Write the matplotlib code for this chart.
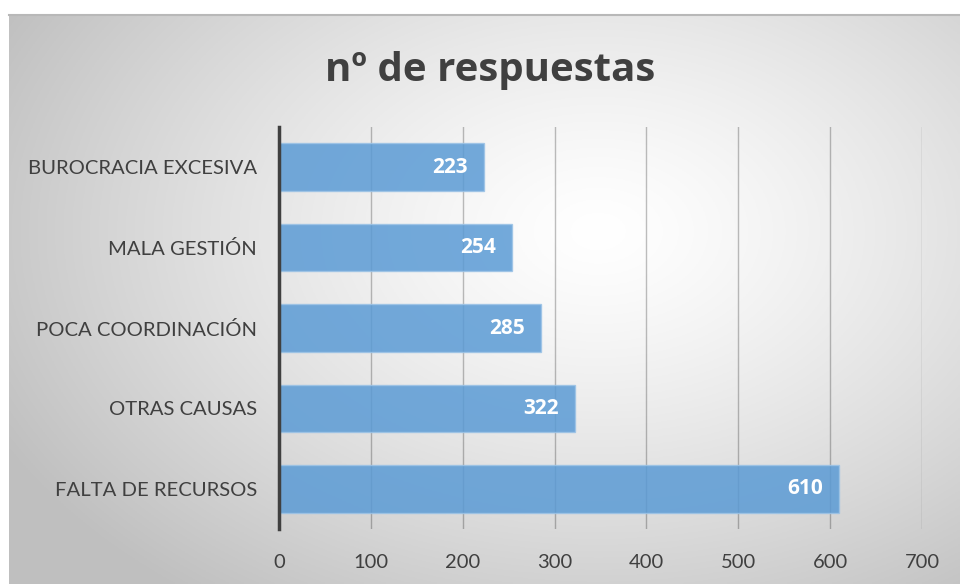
import numpy as np
import matplotlib
matplotlib.use("Agg")
import matplotlib.pyplot as plt

categories = ["FALTA DE RECURSOS", "OTRAS CAUSAS", "POCA COORDINACIÓN", "MALA GESTIÓN", "BUROCRACIA EXCESIVA"]
values = [610, 322, 285, 254, 223]
xticks = [0, 100, 200, 300, 400, 500, 600, 700]
title = "nº de respuestas"

FONT = "Lato"
BOLDFONT = "Open Sans"
W, H = 960, 584
fig = plt.figure(figsize=(W / 100, H / 100), dpi=100)

# background radial gradient (chart area)
bg = fig.add_axes([9 / W, 0, 1 - 9 / W, (H - 15) / H])
bg.set_axis_off()
nx, ny = 400, 240
xs = np.linspace(0, 1, nx)
ys = np.linspace(0, 1, ny)
X, Y = np.meshgrid(xs, ys)
cx, cy = 0.62, 0.38
R = np.sqrt(((X - cx) / 0.75) ** 2 + ((Y - cy) / 0.85) ** 2)
R = np.clip(R / 0.95, 0, 1)
val = 1.0 - 0.25 * R ** 1.3
img = np.dstack([val, val, val])
bg.imshow(img, extent=[0, 1, 0, 1], aspect="auto", origin="upper")
bg.plot([0, 1], [1, 1], color="#b8b8b8", lw=1.5, transform=bg.transAxes, clip_on=False)
bg.set_xlim(0, 1)
bg.set_ylim(0, 1)

ax = fig.add_axes([279 / W, (H - 529) / H, (922 - 279) / W, 402 / H])
ax.patch.set_alpha(0)
y = np.arange(len(categories))
bars = ax.barh(y, values, height=0.59, color="#5b9bd5", alpha=0.85,
               edgecolor="#9cc3e6", linewidth=1, zorder=3)
ax.set_xlim(0, 700)
ax.set_ylim(-0.5, len(categories) - 0.5)
ax.set_xticks(xticks)
ax.set_xticklabels([str(t) for t in xticks], fontsize=14.5, color="#404040", family=FONT)
ax.set_yticks(y)
ax.set_yticklabels(categories, fontsize=14.6, color="#404040", family=FONT)
ax.tick_params(axis="x", length=0, pad=18)
ax.tick_params(axis="y", length=0, pad=16)
for s in ["top", "right", "bottom"]:
    ax.spines[s].set_visible(False)
ax.spines["left"].set_color("#404040")
ax.spines["left"].set_linewidth(2.5)
ax.spines["left"].set_zorder(5)
ax.xaxis.grid(True, color="black", alpha=0.25, linewidth=1, zorder=1)
ax.set_axisbelow(True)

for yi, v in zip(y, values):
    ax.text(v - 16 * 700 / 643, yi, str(v), ha="right", va="center",
            color="white", fontsize=15, fontweight="bold", family=BOLDFONT, zorder=6)

fig.text(490 / W, 1 - 70 / H, title, ha="center", va="center",
         fontsize=29, fontweight="bold", color="#404040", family=BOLDFONT)

fig.savefig("out.png", dpi=100)
